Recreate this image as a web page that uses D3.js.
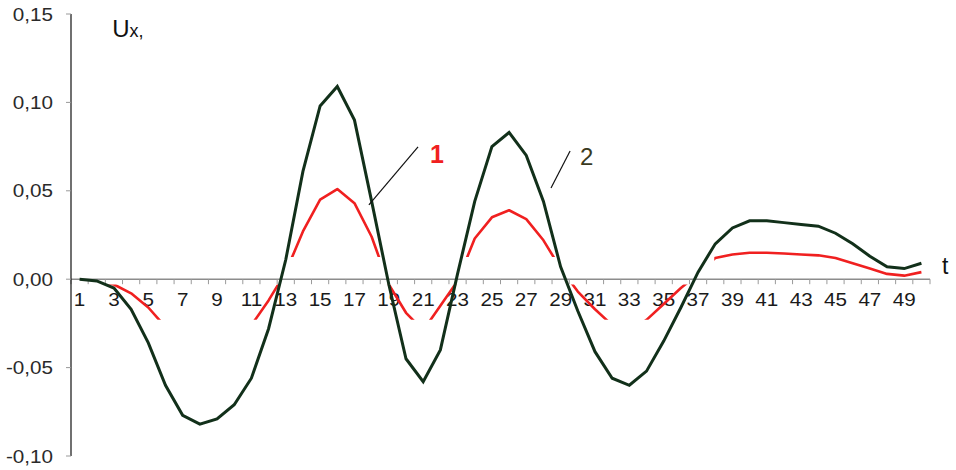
<!DOCTYPE html>
<html>
<head>
<meta charset="utf-8">
<script src="https://cdn.jsdelivr.net/npm/d3@7"></script>
<style>
  html, body { margin: 0; padding: 0; background: #fff; }
  svg { display: block; }
  text { font-family: "Liberation Sans", Arial, sans-serif; }
</style>
</head>
<body>
<svg id="chart" width="956" height="470"></svg>
<script>
// ---- data ----
const categories = d3.range(1, 51);
const series2 = [0.000, -0.001, -0.005, -0.017, -0.036, -0.060, -0.077, -0.082, -0.079, -0.071,
                 -0.056, -0.028, 0.011, 0.061, 0.098, 0.109, 0.090, 0.044, -0.003, -0.045,
                 -0.058, -0.040, 0.003, 0.044, 0.075, 0.083, 0.070, 0.044, 0.007, -0.018,
                 -0.041, -0.056, -0.060, -0.052, -0.035, -0.016, 0.004, 0.020, 0.029, 0.033,
                 0.033, 0.032, 0.031, 0.030, 0.026, 0.020, 0.013, 0.007, 0.006, 0.009];
const series1 = [0.000, -0.001, -0.003, -0.008, -0.016, -0.027, -0.035, -0.038, -0.036, -0.032,
                 -0.026, -0.012, 0.004, 0.027, 0.045, 0.051, 0.043, 0.024, -0.003, -0.019,
                 -0.029, -0.015, -0.001, 0.023, 0.035, 0.039, 0.034, 0.022, 0.006, -0.007,
                 -0.017, -0.026, -0.030, -0.023, -0.014, -0.005, 0.003, 0.012, 0.014, 0.015,
                 0.015, 0.0145, 0.014, 0.0135, 0.012, 0.009, 0.006, 0.003, 0.002, 0.004];
const yTicks = [-0.10, -0.05, 0.00, 0.05, 0.10, 0.15];
const xTickLabels = categories.filter(c => c % 2 === 1);

// ---- layout ----
const svg = d3.select("#chart");
const x = d3.scaleBand().domain(categories).range([71, 930]);
const bw = x.bandwidth();
const xc = d3.scaleLinear().domain([1, 50]).range([x(1) + bw / 2, x(50) + bw / 2]);
const y = d3.scaleLinear().domain([-0.10, 0.15]).range([456, 14]);
const fmt = v => d3.format(".2f")(v).replace(".", ",").replace("−", "-");

// x axis line + ticks
svg.append("line").attr("x1", 71).attr("x2", 930).attr("y1", y(0)).attr("y2", y(0))
  .attr("stroke", "#8c8c8c").attr("stroke-width", 1.5);
svg.append("g").selectAll("line").data(categories.concat([51])).join("line")
  .attr("x1", d => d === 51 ? 930 : x(d)).attr("x2", d => d === 51 ? 930 : x(d))
  .attr("y1", y(0)).attr("y2", y(0) + 5)
  .attr("stroke", "#9a9a9a").attr("stroke-width", 1);
svg.append("g").selectAll("text").data(xTickLabels).join("text")
  .attr("transform", d => `translate(${xc(d)},306) scale(1.18,1)`)
  .attr("text-anchor", "middle").attr("font-size", 17.5).attr("fill", "#1a1a1a")
  .text(d => d);

// y axis
svg.append("line").attr("x1", 71).attr("x2", 71).attr("y1", y(0.15)).attr("y2", y(-0.10))
  .attr("stroke", "#111").attr("stroke-width", 1.2);
svg.append("g").selectAll("line").data(yTicks).join("line")
  .attr("x1", 66).attr("x2", 71).attr("y1", d => y(d)).attr("y2", d => y(d))
  .attr("stroke", "#999").attr("stroke-width", 1);
svg.append("g").selectAll("text").data(yTicks).join("text")
  .attr("transform", d => `translate(53,${y(d) + 6.5}) scale(1.18,1)`)
  .attr("text-anchor", "end").attr("font-size", 17.5).attr("fill", "#2a2a2a")
  .text(d => fmt(d));

// clip for red series (visible bands as in reference)
const defs = svg.append("defs");
const clip = defs.append("clipPath").attr("id", "redclip");
clip.append("rect").attr("x", 0).attr("width", 956)
  .attr("y", y(0.15)).attr("height", y(0.0125) - y(0.15));
clip.append("rect").attr("x", 0).attr("width", 956)
  .attr("y", y(-0.003)).attr("height", y(-0.023) - y(-0.003));
clip.append("rect").attr("x", xc(38) - 1).attr("width", 956)
  .attr("y", 0).attr("height", 470);

const line = d3.line().x((d, i) => xc(categories[i])).y(d => y(d));

svg.append("path").datum(series1)
  .attr("d", line).attr("fill", "none")
  .attr("stroke", "#f02020").attr("stroke-width", 2.6)
  .attr("stroke-linejoin", "round")
  .attr("clip-path", "url(#redclip)");

svg.append("path").datum(series2)
  .attr("d", line).attr("fill", "none")
  .attr("stroke", "#12301a").attr("stroke-width", 3)
  .attr("stroke-linejoin", "miter");

// annotations
svg.append("line")
  .attr("x1", xc(20.7)).attr("y1", y(0.0748)).attr("x2", xc(17.84)).attr("y2", y(0.042))
  .attr("stroke", "#111").attr("stroke-width", 1.2);
svg.append("line")
  .attr("x1", xc(29.55)).attr("y1", y(0.0725)).attr("x2", xc(28.44)).attr("y2", y(0.0516))
  .attr("stroke", "#111").attr("stroke-width", 1.2);
svg.append("text").attr("x", xc(21.4)).attr("y", y(0.066))
  .attr("font-size", 25).attr("fill", "#f02020").attr("font-weight", "bold").text("1");
svg.append("text").attr("x", xc(30.13)).attr("y", y(0.0646))
  .attr("font-size", 24).attr("fill", "#3a3a1e").text("2");

const ux = svg.append("text").attr("x", xc(2.9)).attr("y", y(0.137)).attr("fill", "#111");
ux.append("tspan").attr("font-size", 24).text("U");
ux.append("tspan").attr("font-size", 18).text("x,");

svg.append("text").attr("x", xc(51.2)).attr("y", y(0.003))
  .attr("font-size", 23).attr("fill", "#111").text("t");
</script>
</body>
</html>
